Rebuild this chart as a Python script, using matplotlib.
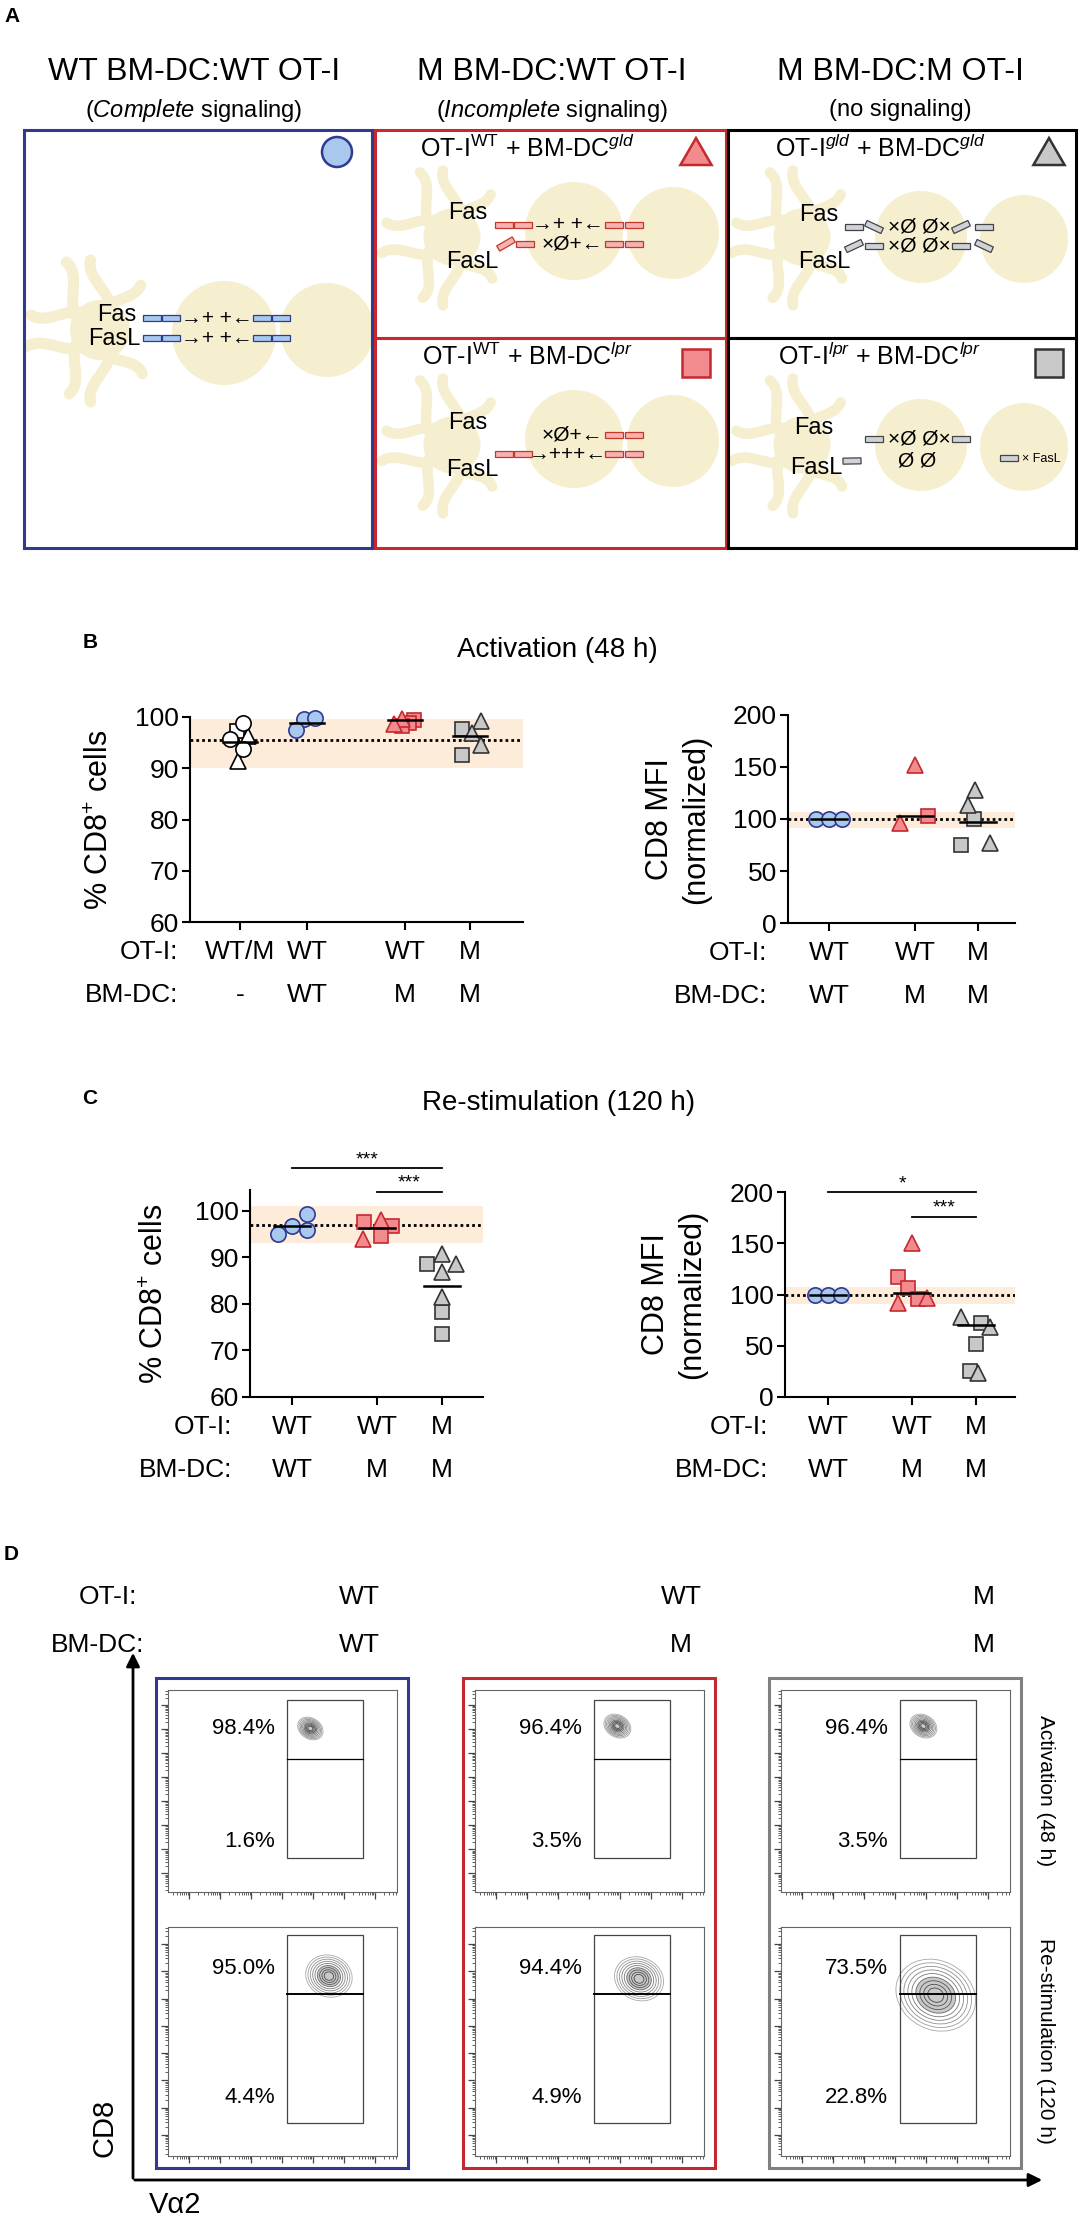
import numpy as np
import matplotlib
matplotlib.use('Agg')
import matplotlib.pyplot as plt
import matplotlib.transforms as mtransforms
from matplotlib.patches import Rectangle, Circle, Ellipse, RegularPolygon

plt.rcParams['font.family'] = ['Liberation Sans', 'DejaVu Sans']
plt.rcParams['mathtext.fontset'] = 'custom'
plt.rcParams['mathtext.rm'] = 'Liberation Sans'
plt.rcParams['mathtext.it'] = 'Liberation Sans:italic'

W, H = 1079, 2220

BLUE_E, BLUE_F = '#2f3a91', '#a8c8ee'
RED_E, RED_F = '#c62830', '#f28b8e'
GRAY_E, GRAY_F = '#333333', '#c8c8c8'
BAND = '#fdecd9'
CELL = '#f5eecf'

# ---------------- data ----------------
# B: activation (48 h), % CD8+ cells
b1_ot1 = ['WT/M', 'WT', 'WT', 'M']
b1_bmdc = ['-', 'WT', 'M', 'M']
b1_circles = [[98.8, 95.8, 93.8], [99.6, 99.8, 97.4], [], []]
b1_squares = [[97.2], [], [99.5, 98.9, 98.2], [97.6, 92.6]]
b1_triangles = [[96.2, 91.5], [], [99.6, 98.6], [99.3, 96.9, 94.6]]
b1_center = [95.2, 98.8, 99.4, 96.2]
b1_ref, b1_band = 95.5, (90, 99.7)

# B: activation (48 h), CD8 MFI (normalized)
b2_ot1 = ['WT', 'WT', 'M']
b2_bmdc = ['WT', 'M', 'M']
b2_circles = [[100, 100, 100], [], []]
b2_squares = [[], [103], [100, 75]]
b2_triangles = [[], [96, 152], [128, 113, 77]]
b2_center = [100, 102.5, 97]
b2_ref, b2_band = 100, (91, 107)

# C: re-stimulation (120 h), % CD8+ cells
c1_ot1 = ['WT', 'WT', 'M']
c1_bmdc = ['WT', 'M', 'M']
c1_circles = [[95.1, 96.8, 99.4, 95.8], [], []]
c1_squares = [[], [97.6, 96.8, 94.6], [88.6, 78.3, 73.5]]
c1_triangles = [[], [98.0, 94.0], [90.8, 88.6, 86.9, 81.4]]
c1_center = [96.8, 96.3, 83.9]
c1_ref, c1_band = 97, (93, 101)
c1_sig = [(0, 2, 109.2, '***'), (1, 2, 104.1, '***')]

# C: re-stimulation (120 h), CD8 MFI (normalized)
c2_ot1 = ['WT', 'WT', 'M']
c2_bmdc = ['WT', 'M', 'M']
c2_circles = [[100, 100, 100], [], []]
c2_squares = [[], [117, 106, 96], [72, 52, 25]]
c2_triangles = [[], [150, 92, 97], [78, 68, 23]]
c2_center = [100, 101.5, 70]
c2_ref, c2_band = 100, (91, 107)
c2_sig = [(0, 2, 200, '*'), (1, 2, 176, '***')]

# D: flow plots (CD8 vs Va2)
d_ot1 = ['WT', 'WT', 'M']
d_bmdc = ['WT', 'M', 'M']
d_act_hi = ['98.4%', '96.4%', '96.4%']
d_act_lo = ['1.6%', '3.5%', '3.5%']
d_rs_hi = ['95.0%', '94.4%', '73.5%']
d_rs_lo = ['4.4%', '4.9%', '22.8%']
# population (x, y, width, height, angle) in log decades
d_act_pop = [(4.6, 6.8, 0.75, 1.0, 30), (4.6, 6.9, 0.8, 1.05, 30), (4.6, 6.9, 0.8, 1.05, 30)]
d_rs_pop = [(5.2, 6.6, 1.45, 1.6, 35), (5.3, 6.5, 1.5, 1.7, 40), (5.0, 5.9, 2.4, 2.8, 40)]

# ---------------- layout (horizontal jitter in px) ----------------
b1_dx = ([[3, -10, 3], [-3, 8, -11], [], []],
         [[-3], [], [9, 4, -3], [-8, -8]],
         [[8, -2], [], [-3, -11], [11, 2, 11]])
b2_dx = ([[-13, 0, 13], [], []],
         [[], [13], [-4, -17]],
         [[], [-15, 0], [-3, -10, 12]])
c1_dx = ([[-14, 0, 15, 15], [], []],
         [[], [-13, 15, 4], [-15, 0, 0]],
         [[], [4, -14], [0, 14, 0, 0]])
c2_dx = ([[-13, 0, 13], [], []],
         [[], [-14, -4, 6], [5, 0, -6]],
         [[], [0, -14, 15], [-15, 14, 2]])

fig = plt.figure(figsize=(W / 100, H / 100), dpi=100)

def px_axes(x0, y0, x1, y1):
    return fig.add_axes([x0 / W, 1 - y1 / H, (x1 - x0) / W, (y1 - y0) / H])

ov = fig.add_axes([0, 0, 1, 1])
ov.set_xlim(0, W)
ov.set_ylim(H, 0)
ov.axis('off')

# ================= panel A =================
ov.text(4, 16, 'A', fontsize=15, fontweight='bold', va='center')
col_titles = ['WT BM-DC:WT OT-I', 'M BM-DC:WT OT-I', 'M BM-DC:M OT-I']
col_sub = [r'($\mathit{Complete}$ signaling)', r'($\mathit{Incomplete}$ signaling)', '(no signaling)']
for xc, t, s in zip([194, 552, 900], col_titles, col_sub):
    ov.text(xc, 72, t, fontsize=23, ha='center', va='center')
    ov.text(xc, 110, s, fontsize=17, ha='center', va='center')

boxes = [Rectangle((24, 130), 348, 418), Rectangle((375, 130), 351, 208),
         Rectangle((375, 338), 351, 210), Rectangle((728, 130), 348, 208),
         Rectangle((728, 338), 348, 210)]
for r, ec in zip(boxes, [BLUE_E, RED_E, RED_E, 'black', 'black']):
    ov.add_patch(Rectangle(r.get_xy(), r.get_width(), r.get_height(), fill=False,
                           ec=ec, lw=2.2, zorder=5))
    r.set_transform(ov.transData)

dc_arms = [(200, 70, 10), (235, 75, -12), (270, 70, 10), (305, 60, -8),
           (160, 75, -10), (125, 70, 12), (90, 72, -10), (55, 60, 10)]

def dc(cx, cy, s, clip):
    c = Circle((cx, cy), 30 * s, fc=CELL, lw=0, zorder=1)
    ov.add_patch(c)
    c.set_clip_path(clip)
    t = np.linspace(0, 1, 40)
    for ang, L, amp in dc_arms:
        a = np.radians(ang)
        d = np.array([np.cos(a), np.sin(a)])
        p = np.array([-d[1], d[0]])
        w = amp * s * np.sin(t * np.pi * 1.6)
        ln, = ov.plot(cx + d[0] * t * L * s + p[0] * w, cy + d[1] * t * L * s + p[1] * w,
                      color=CELL, lw=8 * s, solid_capstyle='round', zorder=1)
        ln.set_clip_path(clip)

def tcell(cx, cy, r, clip):
    c = Circle((cx, cy), r, fc=CELL, lw=0, zorder=1)
    ov.add_patch(c)
    c.set_clip_path(clip)

dc(100, 330, 1.0, boxes[0]); tcell(224, 333, 52, boxes[0]); tcell(327, 330, 47, boxes[0])
for k, cy in enumerate((237, 445)):
    dc(452, cy, 0.95, boxes[1 + k]); tcell(574, cy - 6, 49, boxes[1 + k]); tcell(673, cy - 4, 46, boxes[1 + k])
    dc(802, cy, 0.95, boxes[3 + k]); tcell(921, cy, 46, boxes[3 + k]); tcell(1024, cy + 2, 44, boxes[3 + k])

def bar(x, y, fc, ec, tilt=0):
    ov.add_patch(Rectangle((x, y - 3), 18, 6, angle=tilt, rotation_point='center',
                           fc=fc, ec=ec, lw=0.9, zorder=3))

def prow(y, left, sym, xs, right, fc, ec):
    for x, tl in left:
        bar(x, y, fc, ec, tl)
    ov.text(xs, y, sym, fontsize=15, ha='center', va='center', zorder=4)
    for x, tl in right:
        bar(x, y, fc, ec, tl)

ov.text(136, 315, 'Fas', fontsize=17, ha='right', va='center', zorder=4)
ov.text(140, 339, 'FasL', fontsize=17, ha='right', va='center', zorder=4)
prow(318, [(143, 0), (162, 0)], '→+ +←', 217, [(253, 0), (272, 0)], BLUE_F, BLUE_E)
prow(338, [(143, 0), (162, 0)], '→+ +←', 217, [(253, 0), (272, 0)], BLUE_F, BLUE_E)

RF, RE = '#f6b1b1', '#c0392b'
GF, GE = '#cfd3d8', '#444444'
# red top (gld DC)
ov.text(487, 213, 'Fas', fontsize=17, ha='right', va='center', zorder=4)
ov.text(499, 262, 'FasL', fontsize=17, ha='right', va='center', zorder=4)
prow(225, [(495, 0), (514, 0)], '→+ +←', 568, [(605, 0), (625, 0)], RF, RE)
prow(244, [(497, -30), (516, 0)], '×Ø+←', 572, [(605, 0), (625, 0)], RF, RE)
# red bottom (lpr DC)
ov.text(487, 423, 'Fas', fontsize=17, ha='right', va='center', zorder=4)
ov.text(499, 470, 'FasL', fontsize=17, ha='right', va='center', zorder=4)
prow(435, [], '×Ø+←', 572, [(605, 0), (625, 0)], RF, RE)
prow(454, [(495, 0), (514, 0)], '→+++←', 568, [(605, 0), (625, 0)], RF, RE)
# black top (gld/gld)
ov.text(838, 215, 'Fas', fontsize=17, ha='right', va='center', zorder=4)
ov.text(851, 262, 'FasL', fontsize=17, ha='right', va='center', zorder=4)
prow(227, [(845, 0), (865, 25)], '×Ø Ø×', 919, [(952, -25), (975, 0)], GF, GE)
prow(246, [(845, -25), (865, 0)], '×Ø Ø×', 919, [(952, 0), (975, 25)], GF, GE)
# black bottom (lpr/lpr)
ov.text(833, 428, 'Fas', fontsize=17, ha='right', va='center', zorder=4)
ov.text(842, 468, 'FasL', fontsize=17, ha='right', va='center', zorder=4)
prow(439, [(865, 0)], '×Ø Ø×', 919, [(952, 0)], GF, GE)
prow(461, [(843, -1)], 'Ø Ø', 917, [], GF, GE)
bar(1000, 458, GF, GE)
ov.text(1022, 459, '× FasL', fontsize=9, ha='left', va='center', zorder=4)

# box titles and legend glyphs
sub_titles = [(527, 148, r'OT-I$^{\mathrm{WT}}$ + BM-DC$^{gld}$'),
              (527, 356, r'OT-I$^{\mathrm{WT}}$ + BM-DC$^{lpr}$'),
              (880, 148, r'OT-I$^{gld}$ + BM-DC$^{gld}$'),
              (880, 356, r'OT-I$^{lpr}$ + BM-DC$^{lpr}$')]
for x, y, s in sub_titles:
    ov.text(x, y, s, fontsize=18, ha='center', va='center', zorder=4)
ov.add_patch(Circle((337, 152), 15, fc=BLUE_F, ec=BLUE_E, lw=1.8, zorder=4))
ov.add_patch(RegularPolygon((696, 156), 3, radius=18, orientation=np.pi, fc=RED_F, ec=RED_E, lw=1.8, zorder=4))
ov.add_patch(RegularPolygon((1049, 156), 3, radius=18, orientation=np.pi, fc=GRAY_F, ec=GRAY_E, lw=1.8, zorder=4))
ov.add_patch(Rectangle((682, 349), 28, 28, fc=RED_F, ec=RED_E, lw=1.8, zorder=4))
ov.add_patch(Rectangle((1035, 349), 28, 28, fc=GRAY_F, ec=GRAY_E, lw=1.8, zorder=4))

# ================= panels B and C =================
def strip(ax, centers, styles, circ, sq, tri, dx, center, ref, band, half=18):
    ax.axhspan(band[0], band[1], color=BAND, lw=0, zorder=0)
    ax.axhline(ref, color='black', ls=(0, (1, 1.1)), lw=2.0, zorder=2)
    for i, c in enumerate(centers):
        fc, ec = styles[i]
        for vals, offs, m, ms in ((sq[i], dx[1][i], 's', 10), (tri[i], dx[2][i], '^', 11),
                                  (circ[i], dx[0][i], 'o', 11)):
            for v, d in zip(vals, offs):
                ax.plot(c + d, v, marker=m, ms=ms, mfc=fc, mec=ec, mew=1.2,
                        ls='none', clip_on=False, zorder=4)
        ax.plot([c - half, c + half], [center[i]] * 2, color='black', lw=1.8,
                zorder=5, clip_on=False)
    for sp in ('top', 'right'):
        ax.spines[sp].set_visible(False)
    for sp in ('left', 'bottom'):
        ax.spines[sp].set_linewidth(1.5)
    ax.set_facecolor('none')
    ax.set_xticks(centers)
    ax.set_xticklabels([])
    ax.tick_params(labelsize=19, length=6, width=1.5, pad=2)

def rows(ax, centers, ot1, bmdc, lab_dx, fs):
    for lab_list, dy, head in ((ot1, 30, 'OT-I:'), (bmdc, 73, 'BM-DC:')):
        tr = mtransforms.offset_copy(ax.get_xaxis_transform(), fig=fig, y=-dy, units='dots')
        ax.text(lab_dx, 0, head, transform=tr, ha='right', va='center', fontsize=fs)
        for c, lab in zip(centers, lab_list):
            ax.text(c, 0, lab, transform=tr, ha='center', va='center', fontsize=fs)

def sig(ax, centers, items):
    for g1, g2, yv, lab in items:
        ax.plot([centers[g1], centers[g2]], [yv, yv], color='black', lw=1.3, clip_on=False)
        ax.text((centers[g1] + centers[g2]) / 2, yv, lab, ha='center', va='bottom', fontsize=14)

st4 = [('white', 'black'), (BLUE_F, BLUE_E), (RED_F, RED_E), (GRAY_F, GRAY_E)]
st3 = st4[1:]

ov.text(90, 642, 'B', fontsize=15, fontweight='bold', ha='center', va='center')
ov.text(557, 650, 'Activation (48 h)', fontsize=20, ha='center', va='center')

ax = px_axes(190, 717, 523, 922)
cen = [50, 117, 215, 280]
ax.set_xlim(0, 333); ax.set_ylim(60, 100)
ax.set_yticks([60, 70, 80, 90, 100])
strip(ax, cen, st4, b1_circles, b1_squares, b1_triangles, b1_dx, b1_center, b1_ref, b1_band, 17)
rows(ax, cen, b1_ot1, b1_bmdc, -12, 19)
ov.text(100, 820, r'% CD8$^{+}$ cells', fontsize=22, rotation=90, ha='center', va='center')

ax = px_axes(788, 715, 1015, 923)
cen = [41, 127, 190]
ax.set_xlim(0, 227); ax.set_ylim(0, 200)
ax.set_yticks([0, 50, 100, 150, 200])
strip(ax, cen, st3, b2_circles, b2_squares, b2_triangles, b2_dx, b2_center, b2_ref, b2_band)
rows(ax, cen, b2_ot1, b2_bmdc, -21, 19)
ov.text(678, 819, 'CD8 MFI\n(normalized)', fontsize=22, rotation=90, ha='center', va='center',
        linespacing=1.3, multialignment='center')

ov.text(90, 1098, 'C', fontsize=15, fontweight='bold', ha='center', va='center')
ov.text(559, 1103, 'Re-stimulation (120 h)', fontsize=20, ha='center', va='center')

ax = px_axes(250, 1190, 483, 1397)
cen = [42, 127, 192]
ax.set_xlim(0, 233); ax.set_ylim(60, 104.5)
ax.set_yticks([60, 70, 80, 90, 100])
strip(ax, cen, st3, c1_circles, c1_squares, c1_triangles, c1_dx, c1_center, c1_ref, c1_band)
rows(ax, cen, c1_ot1, c1_bmdc, -18, 19)
sig(ax, cen, c1_sig)
ov.text(155, 1294, r'% CD8$^{+}$ cells', fontsize=22, rotation=90, ha='center', va='center')

ax = px_axes(785, 1192, 1015, 1397)
cen = [43, 127, 191]
ax.set_xlim(0, 230); ax.set_ylim(0, 200)
ax.set_yticks([0, 50, 100, 150, 200])
strip(ax, cen, st3, c2_circles, c2_squares, c2_triangles, c2_dx, c2_center, c2_ref, c2_band)
rows(ax, cen, c2_ot1, c2_bmdc, -17, 19)
sig(ax, cen, c2_sig)
ov.text(674, 1294, 'CD8 MFI\n(normalized)', fontsize=22, rotation=90, ha='center', va='center',
        linespacing=1.3, multialignment='center')

# ================= panel D =================
ov.text(4, 1555, 'D', fontsize=15, fontweight='bold', va='center')
ov.text(137, 1597, 'OT-I:', fontsize=19, ha='right', va='center')
ov.text(144, 1645, 'BM-DC:', fontsize=19, ha='right', va='center')
box_left = [156, 463, 769]
head_x = [359, 681, 984]
box_col = [BLUE_E, RED_E, '#808080']

gate_act = (3.85, 6.31, 1.42, 5.54, 8.0)
gate_rs = (3.85, 6.31, 1.21, 5.94, 8.1)
xmaj = 0.68 + np.arange(7)
ymaj = 0.77 + np.arange(-1, 9)
minor = np.log10(np.arange(2, 10))

def blob(ax, cx, cy, w, h, ang):
    for k in range(9):
        s = 1 - k * 0.1
        ax.add_patch(Ellipse((cx, cy), w * s, h * s, angle=ang, fill=False,
                             ec='#3c3c3c', lw=0.6, alpha=0.45 + 0.06 * k, zorder=3))
    ax.add_patch(Ellipse((cx, cy), w * 0.5, h * 0.5, angle=ang, fc='#666666',
                         alpha=0.35, lw=0, zorder=2))

def flow(ax, gate, pop, hi, lo, y_hi, y_lo, div_lw):
    ax.set_xlim(0, 7.4); ax.set_ylim(0, 8.4)
    ax.set_xticks(xmaj)
    ax.set_xticks([m + t for m in np.arange(-1, 7) + 0.68 for t in minor if 0 < m + t < 7.4], minor=True)
    ax.set_yticks([v for v in ymaj if 0 <= v <= 8.4])
    ax.set_yticks([m + t for m in ymaj for t in minor if 0 < m + t < 8.4], minor=True)
    ax.set_xticklabels([]); ax.set_yticklabels([])
    ax.tick_params(which='major', length=5, width=0.9, color='#444444')
    ax.tick_params(which='minor', length=2.5, width=0.6, color='#444444')
    for sp in ax.spines.values():
        sp.set_linewidth(0.8); sp.set_color('#666666')
    x0, x1, yb, yd, yt = gate
    ax.add_patch(Rectangle((x0, yb), x1 - x0, yt - yb, fill=False, ec='#444444', lw=0.9, zorder=4))
    ax.plot([x0, x1], [yd, yd], color='black', lw=div_lw, zorder=4)
    blob(ax, *pop)
    ax.text(3.46, y_hi, hi, ha='right', va='center', fontsize=16)
    ax.text(3.46, y_lo, lo, ha='right', va='center', fontsize=16)

for j in range(3):
    bl = box_left[j]
    ov.add_patch(Rectangle((bl, 1678), 252, 490, fill=False, ec=box_col[j], lw=2.2))
    ov.text(head_x[j], 1597, d_ot1[j], fontsize=19, ha='center', va='center')
    ov.text(head_x[j], 1645, d_bmdc[j], fontsize=19, ha='center', va='center')
    a1 = px_axes(bl + 12, 1690, bl + 241, 1892)
    flow(a1, gate_act, d_act_pop[j], d_act_hi[j], d_act_lo[j], 6.8, 2.1, 0.9)
    a2 = px_axes(bl + 12, 1927, bl + 241, 2156)
    flow(a2, gate_rs, d_rs_pop[j], d_rs_hi[j], d_rs_lo[j], 6.86, 2.13, 1.4)

ov.annotate('', xy=(133, 1650), xytext=(133, 2181),
            arrowprops=dict(arrowstyle='-|>', lw=2, color='black', mutation_scale=20))
ov.annotate('', xy=(1045, 2180), xytext=(132, 2180),
            arrowprops=dict(arrowstyle='-|>', lw=2, color='black', mutation_scale=20))
ov.text(104, 2128, 'CD8', fontsize=21, rotation=90, ha='center', va='center')
ov.text(175, 2205, 'Vα2', fontsize=21, ha='center', va='center')
ov.text(1046, 1791, 'Activation (48 h)', fontsize=15, rotation=270, ha='center', va='center')
ov.text(1046, 2041, 'Re-stimulation (120 h)', fontsize=15, rotation=270, ha='center', va='center')

fig.savefig('out.png', dpi=100)
